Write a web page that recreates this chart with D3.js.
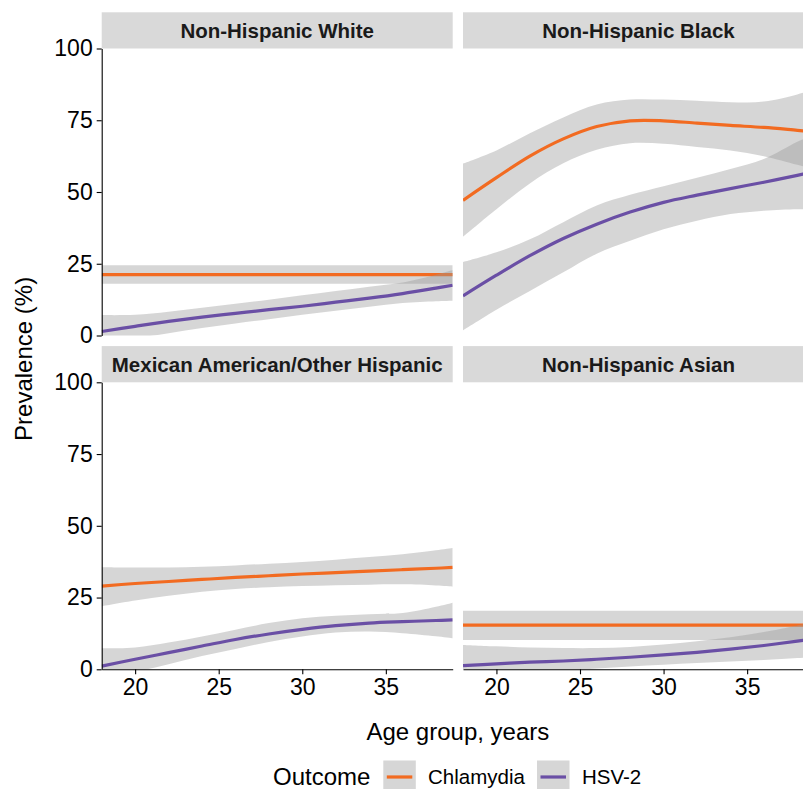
<!DOCTYPE html>
<html>
<head>
<meta charset="utf-8">
<script src="https://cdn.jsdelivr.net/npm/d3@7"></script>
<style>
  html, body { margin: 0; padding: 0; background: #fff; }
  svg { display: block; font-family: "Liberation Sans", Arial, Helvetica, sans-serif; }
</style>
</head>
<body>
<svg id="chart" width="803" height="789"></svg>
<script>
// ---------------- DATA ----------------
const ages = [18, 20, 22, 24, 26, 28, 30, 32, 34, 36, 38, 39];
const groups = ["Non-Hispanic White", "Non-Hispanic Black", "Mexican American/Other Hispanic", "Non-Hispanic Asian"];
const outcomes = ["Chlamydia", "HSV-2"];
const yTicks = [0, 25, 50, 75, 100];
const xTicks = [20, 25, 30, 35];

// Non-Hispanic White
const whiteChlFit = [21.2, 21.2, 21.2, 21.2, 21.2, 21.2, 21.2, 21.2, 21.2, 21.2, 21.2, 21.2];
const whiteChlHi  = [24.5, 24.5, 24.5, 24.5, 24.5, 24.5, 24.5, 24.5, 24.5, 24.5, 24.5, 24.5];
const whiteChlLo  = [18.0, 18.0, 18.0, 18.0, 18.0, 18.0, 18.0, 18.0, 18.0, 18.0, 18.0, 18.0];
const whiteHsvFit = [1.4, 3.2, 4.9, 6.4, 7.7, 9.0, 10.2, 11.6, 13.0, 14.6, 16.5, 17.5];
const whiteHsvHi  = [7.1, 7.2, 8.3, 9.7, 11.1, 12.5, 14.0, 15.5, 17.0, 18.5, 21.2, 22.8];
const whiteHsvLo  = [-3, -1, 0.8, 2.6, 4.2, 5.7, 7.2, 8.6, 10.0, 11.3, 11.9, 12.1];

// Non-Hispanic Black
const blackChlFit = [47.1, 55.0, 62.5, 68.5, 72.8, 74.8, 74.8, 74.0, 73.2, 72.5, 71.5, 71.0];
const blackChlHi  = [59.9, 64.5, 70.5, 76.0, 80.5, 82.2, 82.2, 81.8, 81.3, 81.5, 84.0, 85.8];
const blackChlLo  = [34.4, 44.0, 53.0, 60.0, 64.7, 67.0, 66.8, 65.7, 64.5, 62.5, 59.5, 58.0];
const blackHsvFit = [13.8, 21.0, 27.8, 33.8, 38.8, 43.0, 46.4, 48.9, 51.2, 53.4, 55.8, 57.0];
const blackHsvHi  = [25.6, 29.0, 33.5, 39.5, 45.3, 49.0, 52.0, 55.0, 58.0, 61.5, 67.5, 70.0];
const blackHsvLo  = [1.8, 9.0, 15.5, 22.0, 28.5, 33.0, 37.0, 40.0, 42.3, 43.5, 44.0, 44.0];

// Mexican American/Other Hispanic
const mexChlFit = [29.0, 29.9, 30.6, 31.3, 32.0, 32.6, 33.2, 33.7, 34.2, 34.7, 35.2, 35.5];
const mexChlHi  = [35.6, 35.5, 35.5, 35.7, 36.2, 36.8, 37.4, 38.2, 39.1, 40.1, 41.5, 42.3];
const mexChlLo  = [22.0, 24.0, 25.6, 27.0, 28.0, 28.6, 29.0, 29.3, 29.5, 29.6, 29.2, 28.8];
const mexHsvFit = [1.1, 3.5, 5.8, 8.1, 10.4, 12.3, 13.9, 15.2, 16.1, 16.6, 17.0, 17.2];
const mexHsvHi  = [7.3, 7.6, 9.3, 11.4, 13.8, 16.1, 17.8, 18.7, 19.2, 19.6, 21.8, 23.2];
const mexHsvLo  = [-4, -1, 1.8, 4.6, 7.1, 9.5, 11.4, 12.8, 13.2, 12.6, 11.5, 10.8];

// Non-Hispanic Asian
const asianChlFit = [15.4, 15.4, 15.4, 15.4, 15.4, 15.4, 15.4, 15.4, 15.4, 15.4, 15.4, 15.4];
const asianChlHi  = [20.4, 20.4, 20.4, 20.4, 20.4, 20.4, 20.4, 20.4, 20.4, 20.4, 20.4, 20.4];
const asianChlLo  = [10.2, 10.2, 10.2, 10.2, 10.2, 10.2, 10.2, 10.2, 10.2, 10.2, 10.2, 10.2];
const asianHsvFit = [1.3, 1.9, 2.5, 2.9, 3.5, 4.2, 5.0, 5.9, 7.0, 8.3, 9.8, 10.6];
const asianHsvHi  = [8.5, 8.0, 7.6, 7.4, 7.4, 7.8, 8.6, 9.8, 11.2, 13.0, 15.3, 16.5];
const asianHsvLo  = [-6, -3.5, -1.8, -0.6, 0.3, 1.0, 1.6, 2.2, 2.7, 3.2, 3.9, 4.3];

const colors = ["#F26B21", "#6A4FA5"];

const panelSeries = [
  [[whiteChlFit, whiteChlLo, whiteChlHi], [whiteHsvFit, whiteHsvLo, whiteHsvHi]],
  [[blackChlFit, blackChlLo, blackChlHi], [blackHsvFit, blackHsvLo, blackHsvHi]],
  [[mexChlFit, mexChlLo, mexChlHi], [mexHsvFit, mexHsvLo, mexHsvHi]],
  [[asianChlFit, asianChlLo, asianChlHi], [asianHsvFit, asianHsvLo, asianHsvHi]]
];

// ---------------- LAYOUT ----------------
const svg = d3.select("#chart");
const colLeft = [101.7, 463];
const rowTop = [48.5, 382.3];
const pw = 351, ph = 287, stripH = 36.2;
const ribbonFill = "#999999", ribbonOpacity = 0.4;

const curve = d3.curveCatmullRom.alpha(0.5);

groups.forEach((g, i) => {
  const col = i % 2, row = Math.floor(i / 2);
  const x0 = colLeft[col], y0 = rowTop[row];
  const x = d3.scaleLinear().domain([18, 39]).range([x0, x0 + pw]);
  const y = d3.scaleLinear().domain([0, 100]).range([y0 + ph, y0]);

  // strip
  svg.append("rect").attr("x", x0).attr("y", y0 - stripH).attr("width", pw).attr("height", stripH)
    .attr("fill", "#D9D9D9");
  svg.append("text").attr("x", x0 + pw / 2).attr("y", y0 - stripH / 2 + 7.4)
    .attr("text-anchor", "middle").attr("font-weight", "bold").attr("font-size", "20.5px")
    .attr("fill", "#1A1A1A").text(g);

  const clipId = "clip" + i;
  svg.append("clipPath").attr("id", clipId).append("rect")
    .attr("x", x0).attr("y", y0).attr("width", pw).attr("height", ph);
  const pg = svg.append("g").attr("clip-path", `url(#${clipId})`);

  outcomes.forEach((o, k) => {
    const [fit, lo, hi] = panelSeries[i][k];
    const pts = ages.map((a, j) => ({ a, f: fit[j], l: lo[j], h: hi[j] }));
    const area = d3.area().curve(curve).x(d => x(d.a)).y0(d => y(d.l)).y1(d => y(d.h));
    const line = d3.line().curve(curve).x(d => x(d.a)).y(d => y(d.f));
    pg.append("path").datum(pts).attr("d", area).attr("fill", ribbonFill).attr("fill-opacity", ribbonOpacity);
    pg.append("path").datum(pts).attr("d", line).attr("fill", "none")
      .attr("stroke", colors[k]).attr("stroke-width", 3.2).attr("stroke-linecap", "butt");
  });

  if (col === 0) {
    const ax = svg.append("g").attr("transform", `translate(${x0},0)`)
      .call(d3.axisLeft(y).tickValues(yTicks).tickSize(5).tickSizeOuter(0).tickPadding(4));
    ax.select(".domain").attr("stroke", "#000").attr("stroke-width", 1.1);
    ax.selectAll(".tick line").attr("stroke", "#000").attr("stroke-width", 1.1);
    ax.selectAll(".tick text").attr("font-size", "23px").attr("fill", "#000")
      .attr("font-family", "Liberation Sans, Arial, sans-serif");
  }
  if (row === 1) {
    const ax = svg.append("g").attr("transform", `translate(0,${y0 + ph})`)
      .call(d3.axisBottom(x).tickValues(xTicks).tickSize(5).tickSizeOuter(0).tickPadding(4));
    ax.select(".domain").attr("stroke", "#000").attr("stroke-width", 1.1);
    ax.selectAll(".tick line").attr("stroke", "#000").attr("stroke-width", 1.1);
    ax.selectAll(".tick text").attr("font-size", "23px").attr("fill", "#000")
      .attr("font-family", "Liberation Sans, Arial, sans-serif");
  }
});

// axis titles
svg.append("text").attr("x", 457.9).attr("y", 740).attr("text-anchor", "middle")
  .attr("font-size", "24px").attr("fill", "#000").text("Age group, years");
svg.append("text").attr("transform", `translate(31.5,${(rowTop[0] + rowTop[1] + ph) / 2}) rotate(-90)`)
  .attr("text-anchor", "middle").attr("font-size", "24px").attr("fill", "#000").text("Prevalence (%)");

// legend
const legY = 777;
svg.append("text").attr("x", 273).attr("y", legY + 8.4)
  .attr("font-size", "24px").attr("fill", "#000").text("Outcome");
const keyX = [383.3, 537];
const labX = [428, 582];
outcomes.forEach((o, k) => {
  svg.append("rect").attr("x", keyX[k]).attr("y", legY - 16.5).attr("width", 32.5).attr("height", 33)
    .attr("fill", ribbonFill).attr("fill-opacity", ribbonOpacity);
  svg.append("line").attr("x1", keyX[k] + 3.5).attr("x2", keyX[k] + 29).attr("y1", legY).attr("y2", legY)
    .attr("stroke", colors[k]).attr("stroke-width", 3.2);
  svg.append("text").attr("x", labX[k]).attr("y", legY + 7.3)
    .attr("font-size", "20.5px").attr("fill", "#000").text(o);
});
</script>
</body>
</html>
